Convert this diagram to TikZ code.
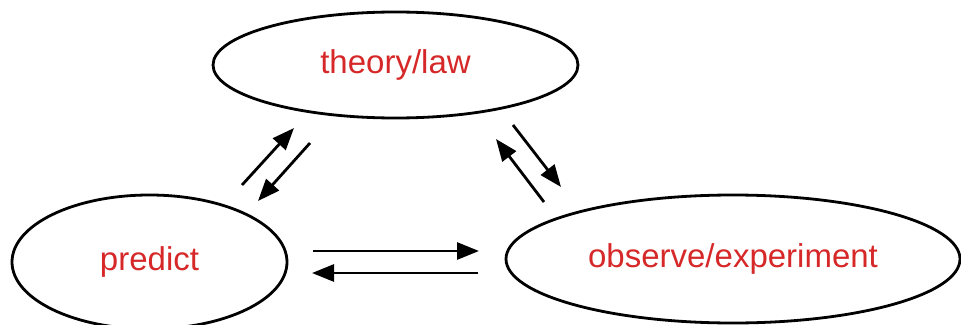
\documentclass[tikz,border=0pt]{standalone}
\usepackage{fontspec}
\setmainfont{Liberation Sans}
\usetikzlibrary{shapes.geometric,arrows.meta}
\definecolor{lbl}{RGB}{214,40,40}
\begin{document}
\begin{tikzpicture}[x=1pt,y=-1pt,
  oval/.style={draw=black,line width=2.8pt,ellipse,inner sep=0pt,text=lbl,font=\fontsize{33}{36}\selectfont},
  conn/.style={line width=2.8pt,-{Triangle[length=22pt,width=17pt]}}]
\useasboundingbox (0,0) rectangle (961,324);
\clip (0,0) rectangle (961,324);
\node[oval,minimum width=365pt,minimum height=106pt] (theory) at (395.5,65) {theory/law};
\node[oval,minimum width=275pt,minimum height=134pt] (predict) at (149.5,262) {predict};
\node[oval,minimum width=454pt,minimum height=128pt] (observe) at (733,259) {observe/experiment};
\coordinate (a1s) at (242,185); \coordinate (a1e) at (294,128);
\coordinate (a2s) at (310,143); \coordinate (a2e) at (258,201);
\coordinate (a3s) at (513,125); \coordinate (a3e) at (561,187);
\coordinate (a4s) at (544,202); \coordinate (a4e) at (496,139);
\coordinate (a5s) at (313,251); \coordinate (a5e) at (479,251);
\coordinate (a6s) at (478,273); \coordinate (a6e) at (312,273);
\draw[conn] (a1s) -- (a1e);
\draw[conn] (a2s) -- (a2e);
\draw[conn] (a3s) -- (a3e);
\draw[conn] (a4s) -- (a4e);
\draw[conn] (a5s) -- (a5e);
\draw[conn] (a6s) -- (a6e);
\end{tikzpicture}
\end{document}
